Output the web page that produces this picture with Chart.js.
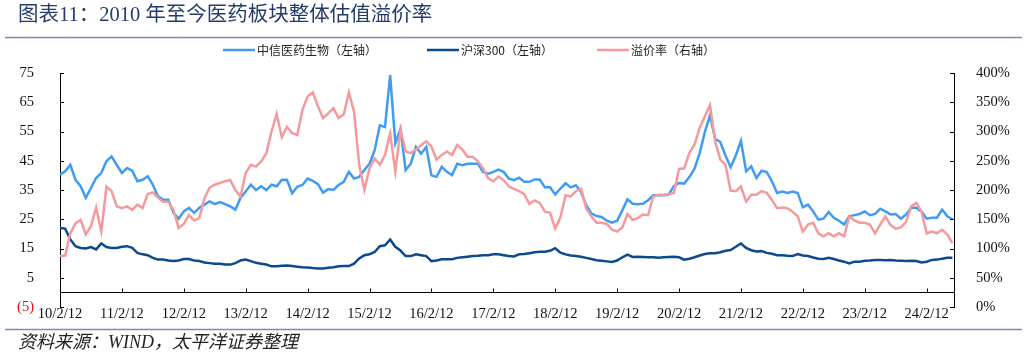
<!DOCTYPE html>
<html>
<head>
<meta charset="utf-8">
<script src="https://cdn.jsdelivr.net/npm/chart.js@4.4.1/dist/chart.umd.min.js"></script>
<style>
  body { margin: 0; background: #fff; }
  #wrap { width: 1031px; height: 356px; }
</style>
</head>
<body>
<div id="wrap"><canvas id="myChart" width="1031" height="356"></canvas></div>
<script>
"use strict";

// monthly readings, month 0 = 2010/2/12
const yiyao = [
  40.2, 41.4, 43.6, 38.5, 36.3, 32.3, 35.7, 39.1, 40.8, 44.8, 46.5, 43.6, 40.8, 42.5, 41.6, 38.0, 38.5, 39.7, 36.8, 32.8, 31.7, 31.7,
  27.2, 25.2, 27.7, 28.9, 27.2, 28.9, 30.0, 31.1, 30.2, 30.9, 30.2, 29.4, 28.3, 32.3, 34.5, 36.8, 35.0, 36.3, 35.0, 36.8, 36.3, 38.5,
  38.4, 33.9, 36.1, 36.7, 38.9, 38.1, 37.0, 34.1, 35.3, 35.0, 36.7, 37.8, 41.2, 38.9, 39.5, 41.8, 44.0, 48.6, 57.1, 56.5, 74.3, 51.0,
  55.9, 41.8, 44.0, 49.7, 47.4, 49.7, 40.0, 39.5, 42.9, 41.2, 40.1, 44.0, 43.5, 44.0, 44.0, 44.0, 41.2, 40.6, 41.2, 42.0, 41.2, 38.9,
  38.4, 39.2, 37.8, 37.8, 38.6, 38.6, 35.9, 35.9, 33.5, 35.5, 37.3, 35.9, 36.6, 34.4, 29.8, 27.0, 26.1, 25.8, 24.5, 23.8, 24.5, 28.1,
  31.8, 30.3, 30.1, 30.3, 31.5, 33.2, 33.2, 33.2, 33.5, 36.3, 37.4, 37.2, 39.4, 42.3, 47.6, 54.8, 60.5, 52.5, 51.4, 46.8, 42.8, 46.8,
  51.8, 41.4, 43.1, 39.1, 41.6, 41.1, 38.0, 34.0, 34.5, 34.0, 34.5, 34.0, 29.1, 30.0, 27.7, 24.9, 25.2, 27.5, 25.5, 24.5, 23.2,
  26.0, 26.4, 26.8, 27.7, 26.4, 26.8, 28.6, 27.7, 26.6, 26.8, 25.2, 26.6, 28.9, 28.9, 27.7, 25.2, 25.5, 25.5, 28.3, 26.0, 24.9
];
const hs300 = [
  22.0, 21.8, 18.1, 15.8, 15.2, 15.0, 15.5, 14.7, 16.7, 15.5, 15.2, 15.2, 15.6, 15.8, 15.2, 13.5, 13.0, 12.7, 11.8, 11.2, 11.2, 10.9,
  10.7, 10.9, 11.4, 11.4, 10.9, 10.7, 10.2, 10.0, 9.8, 9.8, 9.5, 9.5, 10.0, 10.9, 11.2, 10.7, 10.1, 9.8, 9.5, 8.9, 8.9, 9.1,
  9.2, 9.0, 8.8, 8.6, 8.5, 8.3, 8.2, 8.2, 8.4, 8.6, 8.9, 9.0, 9.0, 9.8, 11.6, 12.7, 13.0, 13.8, 15.8, 16.1, 18.1, 15.6,
  14.3, 12.4, 12.4, 13.0, 12.7, 12.4, 10.7, 10.9, 11.3, 11.3, 11.3, 11.8, 12.0, 12.2, 12.4, 12.5, 12.7, 12.7, 13.0, 13.0, 12.7, 12.4,
  12.3, 13.0, 13.1, 13.4, 13.7, 13.9, 13.9, 14.2, 15.1, 13.6, 13.0, 12.6, 12.4, 12.2, 11.8, 11.4, 11.0, 10.8, 10.6, 10.4, 10.9, 12.0,
  12.9, 12.1, 12.2, 12.1, 12.0, 12.0, 11.8, 12.0, 12.1, 12.2, 12.0, 11.2, 11.5, 12.0, 12.6, 13.1, 13.4, 13.4, 13.7, 14.2, 14.5, 15.6,
  16.7, 15.2, 14.4, 14.0, 14.1, 13.5, 13.2, 12.7, 12.7, 12.5, 12.4, 13.1, 12.6, 12.4, 11.9, 11.5, 11.4, 11.8, 11.4, 10.9, 10.5,
  9.9, 10.5, 10.5, 10.8, 10.9, 11.1, 11.1, 11.0, 11.1, 10.9, 10.8, 10.7, 10.8, 10.7, 10.2, 10.5, 11.1, 11.2, 11.5, 11.8, 11.8
];
const premium = [
  87, 88, 126, 143, 149, 124, 138, 170, 129, 206, 198, 172, 169, 172, 166, 175, 169, 193, 196, 187, 180, 180,
  166, 135, 142, 157, 148, 152, 186, 204, 209, 212, 215, 217, 200, 189, 229, 243, 240, 249, 263, 300, 330, 290,
  308, 297, 294, 337, 360, 367, 343, 323, 331, 340, 323, 329, 367, 334, 243, 200, 237, 254, 243, 260, 297, 232,
  303, 266, 263, 269, 277, 283, 274, 252, 260, 266, 260, 277, 269, 257, 257, 249, 237, 220, 215, 223, 217, 206,
  202, 198, 193, 176, 182, 178, 163, 161, 134, 153, 191, 189, 198, 202, 169, 155, 144, 144, 142, 132, 129, 136,
  159, 149, 152, 158, 157, 189, 192, 192, 193, 195, 236, 237, 263, 278, 306, 326, 345, 283, 252, 243, 199, 198,
  206, 180, 192, 192, 198, 195, 183, 169, 170, 169, 163, 155, 129, 141, 144, 126, 121, 126, 121, 126, 121,
  155, 148, 144, 144, 141, 126, 141, 155, 140, 134, 136, 145, 172, 178, 163, 126, 129, 126, 132, 124, 109
];
const yearTicks = [0, 12, 24, 36, 48, 60, 72, 84, 96, 108, 120, 132, 144, 156, 168];
const seriesNames = ["中信医药生物（左轴）", "沪深300（左轴）", "溢价率（右轴）"];
const colors = ["#3f9cf2", "#0b4a8c", "#f59a9c"];

const toPoints = arr => arr.map((v, i) => ({ x: i, y: v }));
const serif = "'Liberation Serif', 'Noto Sans CJK SC', serif";

const decor = {
  id: "decor",
  afterDraw(chart) {
    const ctx = chart.ctx;
    const { left, right } = chart.chartArea;
    const sx = chart.scales.x, sy = chart.scales.y, sy1 = chart.scales.y1;
    ctx.save();

    // inward tick marks
    ctx.strokeStyle = "#000";
    ctx.lineWidth = 1;
    ctx.beginPath();
    const y0 = Math.round(sy.getPixelForValue(0)) + 0.5;
    sx.ticks.forEach(t => {
      const px = Math.round(sx.getPixelForValue(t.value)) + 0.5;
      ctx.moveTo(px, y0); ctx.lineTo(px, y0 - 4);
    });
    sy.ticks.forEach(t => {
      const py = Math.round(sy.getPixelForValue(t.value)) + 0.5;
      ctx.moveTo(left, py); ctx.lineTo(left + 4, py);
    });
    sy1.ticks.forEach(t => {
      const py = Math.round(sy1.getPixelForValue(t.value)) + 0.5;
      ctx.moveTo(right, py); ctx.lineTo(right - 4, py);
    });
    ctx.stroke();

    // title and rules
    ctx.fillStyle = "#243c6c";
    ctx.font = "20.5px " + serif;
    ctx.textBaseline = "middle";
    ctx.textAlign = "left";
    ctx.fillText("图表11：2010 年至今医药板块整体估值溢价率", 18, 16);

    ctx.strokeStyle = "#8585b5";
    ctx.lineWidth = 1.5;
    ctx.beginPath();
    ctx.moveTo(5, 37.5); ctx.lineTo(1022, 37.5);
    ctx.moveTo(5, 329.5); ctx.lineTo(1022, 329.5);
    ctx.stroke();

    // legend
    const legendX = [223, 427, 597];
    ctx.font = "12px 'Noto Sans CJK SC', sans-serif";
    ctx.fillStyle = "#222";
    seriesNames.forEach((name, i) => {
      ctx.strokeStyle = colors[i];
      ctx.lineWidth = 2.5;
      ctx.beginPath();
      ctx.moveTo(legendX[i], 50); ctx.lineTo(legendX[i] + 32, 50);
      ctx.stroke();
      ctx.fillText(name, legendX[i] + 34, 50);
    });

    // source
    ctx.font = "italic 18px " + serif;
    ctx.fillStyle = "#222";
    ctx.fillText("资料来源：WIND，太平洋证券整理", 18, 343);
    ctx.restore();
  }
};

const data1 = {
  datasets: [
    {
      label: seriesNames[0],
      data: toPoints(yiyao),
      borderColor: colors[0],
      borderWidth: 2.5,
      yAxisID: "y",
      order: 3
    },
    {
      label: seriesNames[1],
      data: toPoints(hs300),
      borderColor: colors[1],
      borderWidth: 2.5,
      yAxisID: "y",
      order: 2
    },
    {
      label: seriesNames[2],
      data: toPoints(premium),
      borderColor: colors[2],
      borderWidth: 2.5,
      yAxisID: "y1",
      order: 1
    }
  ]
};

const config = {
  type: "line",
  data: data1,
  options: {
    responsive: false,
    animation: false,
    events: [],
    layout: { padding: { top: 73, bottom: 49, left: 0, right: 0 } },
    elements: { point: { radius: 0 }, line: { tension: 0 } },
    plugins: {
      legend: { display: false },
      title: { display: false },
      tooltip: { enabled: false }
    },
    scales: {
      x: {
        type: "linear",
        position: { y: 0 },
        min: 0,
        max: 173.3,
        afterBuildTicks: axis => { axis.ticks = yearTicks.map(v => ({ value: v })); },
        grid: { display: false },
        border: { color: "#000", width: 1 },
        ticks: {
          padding: 5,
          maxRotation: 0,
          autoSkip: false,
          color: "#111",
          font: { family: serif, size: 14.5 },
          callback: v => (10 + v / 12) + "/2/12"
        }
      },
      y: {
        position: "left",
        min: -5,
        max: 75,
        afterFit: axis => { axis.width = 60; },
        grid: { display: false },
        border: { color: "#000", width: 1 },
        ticks: {
          stepSize: 10,
          padding: 18,
          color: ctx => ctx.tick.value < 0 ? "#e01010" : "#111",
          font: { family: serif, size: 14.5 },
          callback: v => v < 0 ? "(" + (-v) + ")" : String(v)
        }
      },
      y1: {
        position: "right",
        min: 0,
        max: 400,
        afterFit: axis => { axis.width = 77; },
        grid: { display: false },
        border: { color: "#000", width: 1 },
        ticks: {
          stepSize: 50,
          padding: 14,
          color: "#111",
          font: { family: serif, size: 14.5 },
          callback: v => v + "%"
        }
      }
    }
  },
  plugins: [decor]
};

const ctx = document.getElementById("myChart").getContext("2d");
new Chart(ctx, config);
</script>
</body>
</html>
